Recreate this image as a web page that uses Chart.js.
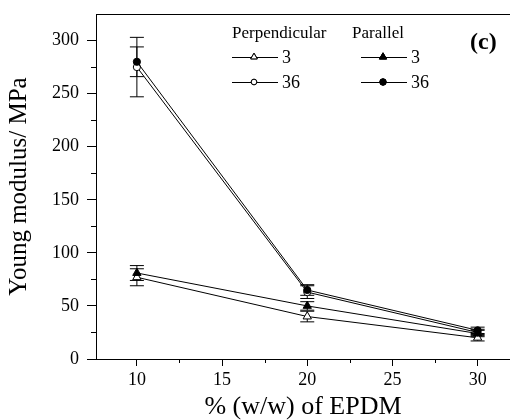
<!DOCTYPE html>
<html>
<head>
<meta charset="utf-8">
<script src="https://cdn.jsdelivr.net/npm/chart.js@4/dist/chart.umd.min.js"></script>
<style>
  html, body { margin: 0; padding: 0; background: #fff; }
  canvas { display: block; }
</style>
</head>
<body>
<canvas id="chart" width="510" height="420"></canvas>
<script>
// EPDM content (x) and Young modulus values
const epdm = [10, 20, 30];

const perp3 = [77, 40, 20];
const perp3Err = [8, 5, 3];
const para3 = [81, 50, 24];
const para3Err = [7, 4, 3];
const perp36 = [275, 63, 25];
const perp36Err = [28, 6, 3];
const para36 = [280, 65, 27];
const para36Err = [14, 5, 3];

const xTicks = [10, 15, 20, 25, 30];
const xMinorTicks = [12.5, 17.5, 22.5, 27.5];
const yTicks = [0, 50, 100, 150, 200, 250, 300];
const yMinorTicks = [25, 75, 125, 175, 225, 275];

const FONT = '"Liberation Serif", "DejaVu Serif", serif';

function toPoints(values) {
    return epdm.map((x, i) => ({ x: x, y: values[i] }));
}

// parallel (filled) datasets first so they sit on top of the open markers
const datasets = [
    { label: 'Parallel 36', data: toPoints(para36), err: para36Err, pointStyle: 'circle', pointRadius: 3.6, filled: true },
    { label: 'Parallel 3', data: toPoints(para3), err: para3Err, pointStyle: 'triangle', pointRadius: 4.8, filled: true },
    { label: 'Perpendicular 36', data: toPoints(perp36), err: perp36Err, pointStyle: 'circle', pointRadius: 3.6, filled: false },
    { label: 'Perpendicular 3', data: toPoints(perp3), err: perp3Err, pointStyle: 'triangle', pointRadius: 4.8, filled: false },
].map(d => ({
    label: d.label,
    data: d.data,
    err: d.err,
    showLine: true,
    borderColor: '#000',
    borderWidth: 1,
    backgroundColor: d.filled ? '#000' : '#fff',
    pointStyle: d.pointStyle,
    pointRadius: d.pointRadius,
    pointBorderColor: '#000',
    pointBackgroundColor: d.filled ? '#000' : '#fff',
    pointBorderWidth: 1,
    tension: 0,
}));

// error bars with caps, through the chart scales
const errorBars = {
    id: 'errorBars',
    beforeDatasetsDraw(chart) {
        const ctx = chart.ctx;
        const xs = chart.scales.x;
        const ys = chart.scales.y;
        ctx.save();
        ctx.strokeStyle = '#000';
        ctx.lineWidth = 1;
        chart.data.datasets.forEach(ds => {
            ds.data.forEach((p, i) => {
                const e = ds.err[i];
                const px = xs.getPixelForValue(p.x);
                const top = ys.getPixelForValue(p.y + e);
                const bot = ys.getPixelForValue(p.y - e);
                ctx.beginPath();
                ctx.moveTo(px, top);
                ctx.lineTo(px, bot);
                ctx.moveTo(px - 7, top);
                ctx.lineTo(px + 7, top);
                ctx.moveTo(px - 7, bot);
                ctx.lineTo(px + 7, bot);
                ctx.stroke();
            });
        });
        ctx.restore();
    }
};

// minor ticks, top frame line, legend block and panel label
const decorations = {
    id: 'decorations',
    afterDraw(chart) {
        const ctx = chart.ctx;
        const area = chart.chartArea;
        const xs = chart.scales.x;
        const ys = chart.scales.y;
        ctx.save();
        ctx.strokeStyle = '#000';
        ctx.lineWidth = 1;
        ctx.beginPath();
        xMinorTicks.forEach(v => {
            const px = Math.round(xs.getPixelForValue(v)) + 0.5;
            ctx.moveTo(px, area.bottom);
            ctx.lineTo(px, area.bottom + 4);
        });
        yMinorTicks.forEach(v => {
            const py = Math.round(ys.getPixelForValue(v)) + 0.5;
            ctx.moveTo(area.left, py);
            ctx.lineTo(area.left - 5, py);
        });
        ctx.moveTo(area.left, area.top + 0.5);
        ctx.lineTo(area.right, area.top + 0.5);
        ctx.stroke();

        // legend
        ctx.fillStyle = '#000';
        ctx.textBaseline = 'alphabetic';
        ctx.textAlign = 'left';
        ctx.font = '17px ' + FONT;
        ctx.fillText('Perpendicular', 232, 38);
        ctx.fillText('Parallel', 352, 38);

        const rows = [
            { x: 232, y: 57, ds: chart.data.datasets[3], text: '3', r: 3.8 },
            { x: 232, y: 82, ds: chart.data.datasets[2], text: '36', r: 2.8 },
            { x: 361, y: 57, ds: chart.data.datasets[1], text: '3', r: 4.2 },
            { x: 361, y: 82, ds: chart.data.datasets[0], text: '36', r: 3.2 },
        ];
        ctx.font = '18px ' + FONT;
        rows.forEach(row => {
            ctx.beginPath();
            ctx.moveTo(row.x, row.y + 0.5);
            ctx.lineTo(row.x + 46, row.y + 0.5);
            ctx.stroke();
            ctx.fillStyle = row.ds.pointBackgroundColor;
            Chart.helpers.drawPoint(ctx, { pointStyle: row.ds.pointStyle, radius: row.r, borderWidth: 1 }, row.x + 22, row.y);
            ctx.fill();
            ctx.stroke();
            ctx.fillStyle = '#000';
            ctx.fillText(row.text, row.x + 50, row.y + 6);
        });

        ctx.font = 'bold 24px ' + FONT;
        ctx.fillText('(c)', 470, 49);
        ctx.restore();
    }
};

new Chart(document.getElementById('chart'), {
    type: 'scatter',
    data: { datasets: datasets },
    options: {
        responsive: false,
        devicePixelRatio: 1,
        animation: false,
        layout: { autoPadding: false, padding: { top: 14, right: 0, left: 0, bottom: 0 } },
        plugins: {
            legend: { display: false },
            tooltip: { enabled: false },
        },
        scales: {
            x: {
                type: 'linear',
                position: 'bottom',
                min: 7.6,
                max: 31.9,
                afterBuildTicks: scale => { scale.ticks = xTicks.map(v => ({ value: v })); },
                afterFit: scale => {
                    scale.height = 61;
                    scale.paddingLeft = 0;
                    scale.paddingRight = 0;
                },
                ticks: { color: '#000', font: { family: FONT, size: 18 }, padding: 3, maxRotation: 0 },
                grid: { display: true, drawOnChartArea: false, drawTicks: true, tickLength: 7, color: '#000' },
                border: { display: true, color: '#000', width: 1 },
                title: {
                    display: true,
                    text: '% (w/w) of EPDM',
                    color: '#000',
                    font: { family: FONT, size: 26, lineHeight: 1 },
                    padding: { top: 0, bottom: 0 },
                },
            },
            y: {
                type: 'linear',
                min: 0,
                max: 325,
                afterBuildTicks: scale => { scale.ticks = yTicks.map(v => ({ value: v })); },
                afterFit: scale => {
                    scale.width = 96;
                    scale.paddingTop = 0;
                    scale.paddingBottom = 0;
                },
                ticks: { color: '#000', font: { family: FONT, size: 18 }, padding: 8 },
                grid: { display: true, drawOnChartArea: false, drawTicks: true, tickLength: 9, color: '#000' },
                border: { display: true, color: '#000', width: 1 },
                title: {
                    display: true,
                    text: 'Young modulus/ MPa',
                    color: '#000',
                    font: { family: FONT, size: 25, lineHeight: 1 },
                    padding: { top: 7, bottom: 0 },
                },
            },
        },
    },
    plugins: [errorBars, decorations],
});
</script>
</body>
</html>
